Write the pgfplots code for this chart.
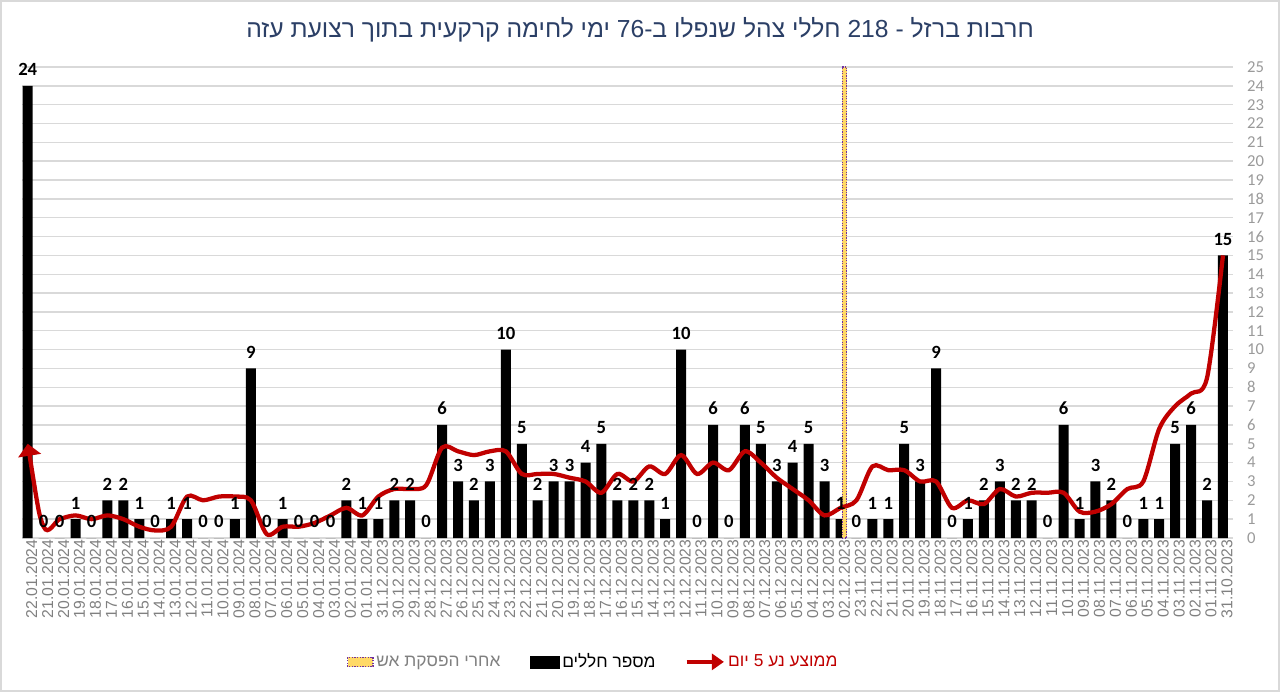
\documentclass[border=0pt]{standalone}
\usepackage{fontspec}
\setmainfont{Liberation Sans}
\newfontfamily\heb[Script=Hebrew]{Liberation Sans}
\newfontfamily\calfont{Carlito}
\TeXXeTstate=1
\usepackage{pgfplots}
\usepackage{pgfplotstable}
\pgfplotsset{compat=1.18}
\usetikzlibrary{arrows.meta}
\definecolor{titleblue}{HTML}{2B3F66}
\definecolor{tickgray}{HTML}{808080}
\definecolor{gridgray}{HTML}{D9D9D9}
\definecolor{mared}{HTML}{C00000}
\definecolor{cfyellow}{HTML}{FFD966}
\definecolor{cfpurple}{HTML}{7030A0}

\pgfplotstableread{
idx val ma
1 24 5.0
2 0 0.6
3 0 1.0
4 1 1.2
5 0 1.0
6 2 1.2
7 2 1.0
8 1 0.6
9 0 0.4
10 1 0.6
11 1 2.2
12 0 2.0
13 0 2.2
14 1 2.2
15 9 2.0
16 0 0.2
17 1 0.6
18 0 0.6
19 0 0.8
20 0 1.2
21 2 1.6
22 1 1.2
23 1 2.2
24 2 2.6
25 2 2.6
26 0 2.8
27 6 4.8
28 3 4.6
29 2 4.4
30 3 4.6
31 10 4.6
32 5 3.4
33 2 3.4
34 3 3.4
35 3 3.2
36 4 3.0
37 5 2.4
38 2 3.4
39 2 3.0
40 2 3.8
41 1 3.4
42 10 4.4
43 0 3.4
44 6 4.0
45 0 3.6
46 6 4.6
47 5 4.0
48 3 3.2
49 4 2.6
50 5 2.0
51 3 1.2
52 1 1.6
53 0 2.0
54 1 3.8
55 1 3.6
56 5 3.6
57 3 3.0
58 9 3.0
59 0 1.6
60 1 2.0
61 2 1.8
62 3 2.6
63 2 2.2
64 2 2.4
65 0 2.4
66 6 2.4
67 1 1.4
68 3 1.4
69 2 1.8
70 0 2.6
71 1 3.0
72 1 5.8
73 5 7.0
74 6 7.67
75 2 8.5
76 15 15.0
}\data

\begin{document}
\begin{tikzpicture}
\path[use as bounding box] (0,0) rectangle (960pt,519pt);
\draw[gridgray, line width=1pt] (0.75pt,0.75pt) rectangle (959.25pt,518.25pt);
\begin{axis}[
  at={(16.5pt,115.5pt)}, anchor=south west,
  scale only axis, width=908.25pt, height=353.25pt,
  xmin=0.64, xmax=76.63, ymin=0, ymax=25,
  xtick={1,...,76}, ytick={0,...,25},
  xticklabels={22.01.2024,21.01.2024,20.01.2024,19.01.2024,18.01.2024,17.01.2024,16.01.2024,15.01.2024,14.01.2024,13.01.2024,12.01.2024,11.01.2024,10.01.2024,09.01.2024,08.01.2024,07.01.2024,06.01.2024,05.01.2024,04.01.2024,03.01.2024,02.01.2024,01.01.2024,31.12.2023,30.12.2023,29.12.2023,28.12.2023,27.12.2023,26.12.2023,25.12.2023,24.12.2023,23.12.2023,22.12.2023,21.12.2023,20.12.2023,19.12.2023,18.12.2023,17.12.2023,16.12.2023,15.12.2023,14.12.2023,13.12.2023,12.12.2023,11.12.2023,10.12.2023,09.12.2023,08.12.2023,07.12.2023,06.12.2023,05.12.2023,04.12.2023,03.12.2023,02.12.2023,23.11.2023,22.11.2023,21.11.2023,20.11.2023,19.11.2023,18.11.2023,17.11.2023,16.11.2023,15.11.2023,14.11.2023,13.11.2023,12.11.2023,11.11.2023,10.11.2023,09.11.2023,08.11.2023,07.11.2023,06.11.2023,05.11.2023,04.11.2023,03.11.2023,02.11.2023,01.11.2023,31.10.2023},
  xticklabel style={rotate=90, anchor=east, font=\fontsize{11.8}{12}\selectfont, text=tickgray, inner sep=1pt, yshift=-3pt},
  yticklabel pos=right,
  /pgf/number format/assume math mode=true,
  yticklabel style={font=\calfont\fontsize{12.5}{13}\selectfont, text=tickgray!80, xshift=7pt},
  axis line style={draw=none},
  tick style={draw=none},
  ymajorgrids,
  major grid style={gridgray, line width=1.1pt},
  clip=false,
  legend columns=3,
  legend style={at={(rel axis cs:0.472,-0.263)}, anchor=center, draw=none, fill=none,
    font=\heb\fontsize{13}{15}\selectfont,
    /tikz/every even column/.append style={column sep=20pt}},
  legend cell align=left,
]
\addlegendimage{legend image code/.code={\draw[fill=cfyellow, draw=cfpurple, densely dotted, line width=1pt] (0pt,-3.5pt) rectangle (19pt,3.5pt);}}
\addlegendentry{\textcolor{tickgray}{\beginR אחרי הפסקת אש\endR}}
\addlegendimage{legend image code/.code={\fill[black] (0pt,-4.5pt) rectangle (22pt,4.5pt);}}
\addlegendentry{\textcolor{black}{\beginR מספר חללים\endR}}
\addlegendimage{legend image code/.code={\draw[mared, line width=2.5pt, -{Triangle[width=12pt,length=9pt]}] (0pt,0pt) -- (28pt,0pt);}}
\addlegendentry{\textcolor{mared}{\beginR ממוצע נע 5 יום\endR}}

\addplot[ybar, bar width=7.5pt, fill=black, draw=none, forget plot,
  nodes near coords,
  every node near coord/.append style={font=\calfont\bfseries\fontsize{14}{15}\selectfont, text=black, yshift=4pt}]
  table[x=idx, y=val]{\data};
\addplot[ybar, bar width=3.5pt, fill=cfyellow, draw=cfpurple, densely dotted, line width=0.9pt, forget plot]
  coordinates {(52.25,25)};
\addplot[smooth, mared, line width=3.2pt, forget plot, {Triangle[width=17pt,length=9pt]}-]
  table[x=idx, y=ma]{\data};
\end{axis}
\node[font=\heb\fontsize{18.5}{22}\selectfont, text=titleblue] at (480pt,496.5pt)
  {\beginR חרבות ברזל - \beginL 218\endL{} חללי צהל שנפלו ב-\beginL 76\endL{} ימי לחימה קרקעית בתוך רצועת עזה\endR};
\end{tikzpicture}
\end{document}
